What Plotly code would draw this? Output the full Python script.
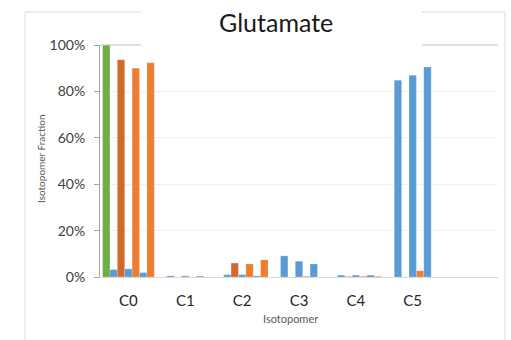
import plotly.graph_objects as go

categories = ["C0", "C1", "C2", "C3", "C4", "C5"]
tick_labels = ["0%", "20%", "40%", "60%", "80%", "100%"]

s1_green = [1.000, 0.000, 0.000, 0.000, 0.000, 0.000]
s2_blue = [0.032, 0.005, 0.010, 0.091, 0.008, 0.848]
s3_darkorange = [0.936, 0.000, 0.060, 0.000, 0.002, 0.000]
s4_blue = [0.035, 0.005, 0.010, 0.068, 0.008, 0.870]
s5_orange = [0.900, 0.000, 0.056, 0.003, 0.003, 0.027]
s6_blue = [0.019, 0.004, 0.005, 0.056, 0.008, 0.905]
s7_orange = [0.923, 0.000, 0.074, 0.000, 0.003, 0.000]

GREEN = "#70AD47"
BLUE = "#5B9BD5"
DORANGE = "#D0692B"
ORANGE = "#ED7D31"

series = [
    (s1_green, GREEN),
    (s2_blue, BLUE),
    (s3_darkorange, DORANGE),
    (s4_blue, BLUE),
    (s5_orange, ORANGE),
    (s6_blue, BLUE),
    (s7_orange, ORANGE),
]

FONT = "Lato"
xpos = list(range(len(categories)))

fig = go.Figure()
for vals, col in series:
    fig.add_trace(go.Bar(
        x=xpos, y=vals,
        marker=dict(color=col, line=dict(color="rgba(255,255,255,0.35)", width=0.6)),
        showlegend=False,
    ))

W, H = 511, 340
L, R, T, B = 100, 13, 45, 63
pw, ph = W - L - R, H - T - B


def px_x(p):
    return (p - L) / pw


def px_y(p):
    return (H - B - p) / ph


fig.update_layout(
    width=W, height=H,
    margin=dict(l=L, r=R, t=T, b=B),
    paper_bgcolor="white", plot_bgcolor="white",
    barmode="group", bargap=0.09, bargroupgap=0.0,
    font=dict(family=FONT, color="#404040"),
    xaxis=dict(
        range=[-0.5, 6.5],
        tickmode="array", tickvals=xpos, ticktext=categories,
        tickfont=dict(size=15, color="#262626", family=FONT),
        showgrid=False, zeroline=False,
        showline=True, linecolor="#d9d9d9", linewidth=1,
        ticks="", ticklabelstandoff=10,
    ),
    yaxis=dict(
        range=[0, 1],
        tickmode="array", tickvals=[0, 0.2, 0.4, 0.6, 0.8, 1.0], ticktext=tick_labels,
        tickfont=dict(size=14, color="#404040", family=FONT),
        showgrid=True, gridcolor="#f0f0f0", gridwidth=1,
        zeroline=False,
        showline=True, linecolor="#a6a6a6", linewidth=1,
        ticks="outside", ticklen=5, tickcolor="#a6a6a6",
        ticklabelstandoff=6,
    ),
    shapes=[
        dict(type="rect", xref="paper", yref="paper",
             x0=px_x(25), x1=px_x(505), y0=px_y(380), y1=px_y(12),
             line=dict(color="#d9d9d9", width=1), fillcolor="rgba(0,0,0,0)", layer="below"),
        dict(type="line", xref="paper", yref="paper",
             x0=0, x1=1, y0=1, y1=1,
             line=dict(color="#bfbfbf", width=1), layer="above"),
        dict(type="rect", xref="paper", yref="paper",
             x0=px_x(141), x1=px_x(422), y0=px_y(48), y1=px_y(0),
             line=dict(width=0), fillcolor="white", layer="above"),
    ],
    annotations=[
        dict(text="Glutamate", xref="paper", yref="paper",
             x=px_x(276), y=px_y(22), xanchor="center", yanchor="middle",
             showarrow=False, font=dict(size=25, color="#1a1a1a", family=FONT)),
        dict(text="Isotopomer Fraction", xref="paper", yref="paper",
             x=px_x(41), y=px_y(159), xanchor="center", yanchor="middle",
             textangle=-90, showarrow=False,
             font=dict(size=10, color="#595959", family=FONT)),
        dict(text="Isotopomer", xref="paper", yref="paper",
             x=px_x(290), y=px_y(318), xanchor="center", yanchor="middle",
             showarrow=False, font=dict(size=11, color="#595959", family=FONT)),
    ],
)

fig.write_html(
    "out.html",
    config={"displayModeBar": False},
    post_script="document.body.style.margin='0';document.body.style.overflow='hidden';",
)
